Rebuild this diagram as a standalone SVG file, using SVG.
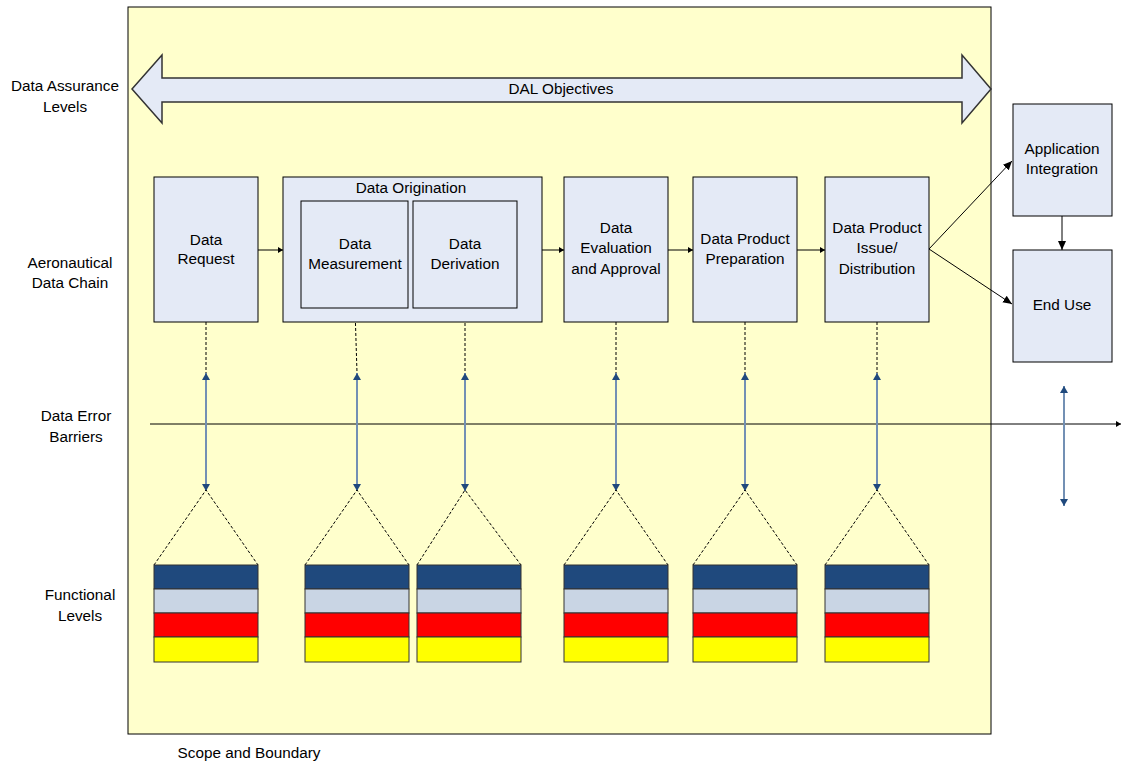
<svg xmlns="http://www.w3.org/2000/svg" width="1128" height="762" viewBox="0 0 1128 762">
<defs>
<style>
text{font-family:"Liberation Sans",Arial,sans-serif;font-size:15.3px;fill:#000;text-anchor:middle}
.box{fill:#E4EAF6;stroke:#000;stroke-width:1}
.conn{stroke:#000;stroke-width:1;fill:none}
.dash{stroke:#000;stroke-width:1;stroke-dasharray:3,2;fill:none}
.blue{stroke:#7390B4;stroke-width:2;fill:none}
.navy{fill:#1F497D;stroke:#333;stroke-width:1}
.lite{fill:#C9D5E4;stroke:#333;stroke-width:1}
.red{fill:#FF0000;stroke:#333;stroke-width:1}
.yel{fill:#FFFF00;stroke:#333;stroke-width:1}
</style>
<marker id="ah" markerWidth="10" markerHeight="10" refX="9" refY="5" orient="auto" markerUnits="userSpaceOnUse">
<path d="M0,1 L9,5 L0,9 Z" fill="#000"/>
</marker>
<marker id="sm" markerWidth="6" markerHeight="8" refX="5" refY="4" orient="auto" markerUnits="userSpaceOnUse">
<path d="M0,1 L5,4 L0,7 Z" fill="#000"/>
</marker>
<marker id="bh" markerWidth="10" markerHeight="8" refX="7" refY="4" orient="auto-start-reverse" markerUnits="userSpaceOnUse">
<path d="M0,0 L7,4 L0,8 Z" fill="#1F497D"/>
</marker>
</defs>

<rect x="0" y="0" width="1128" height="762" fill="#fff"/>
<rect id="scope" x="128" y="7" width="863" height="727" fill="#FFFFCC" stroke="#000" stroke-width="1"/>

<g id="side-labels">
<text x="65" y="91">Data Assurance</text>
<text x="65" y="112">Levels</text>
<text x="70" y="268">Aeronautical</text>
<text x="70" y="288">Data Chain</text>
<text x="76" y="421">Data Error</text>
<text x="76" y="442">Barriers</text>
<text x="80" y="600">Functional</text>
<text x="80" y="621">Levels</text>
<text x="249" y="758">Scope and Boundary</text>
</g>

<g id="dal">
<path d="M132,89 L162,55 L162,78 L962,78 L962,55 L991,89 L962,123 L962,102 L162,102 L162,123 Z" fill="#E4EAF6" stroke="#333" stroke-width="1.5"/>
<text x="561" y="94">DAL Objectives</text>
</g>

<g id="connectors">
<line class="conn" x1="258" y1="250" x2="283" y2="250" marker-end="url(#sm)"/>
<line class="conn" x1="408" y1="250" x2="413" y2="250" marker-end="url(#sm)"/>
<line class="conn" x1="542" y1="250" x2="564" y2="250" marker-end="url(#sm)"/>
<line class="conn" x1="668" y1="250" x2="693" y2="250" marker-end="url(#sm)"/>
<line class="conn" x1="797" y1="250" x2="825" y2="250" marker-end="url(#sm)"/>
<line class="conn" x1="929" y1="249" x2="1012" y2="161" marker-end="url(#ah)"/>
<line class="conn" x1="929" y1="249" x2="1012" y2="304" marker-end="url(#ah)"/>
<line class="conn" x1="1062" y1="216" x2="1062" y2="250" marker-end="url(#ah)"/>
<line class="conn" x1="150" y1="424" x2="1121" y2="424" marker-end="url(#sm)"/>
<line class="dash" x1="206" y1="322" x2="206" y2="373"/>
<line class="dash" x1="355" y1="308" x2="357" y2="373"/>
<line class="dash" x1="465" y1="308" x2="465" y2="373"/>
<line class="dash" x1="616" y1="322" x2="616" y2="373"/>
<line class="dash" x1="745" y1="322" x2="745" y2="373"/>
<line class="dash" x1="877" y1="322" x2="877" y2="373"/>
<line class="blue" x1="206" y1="373" x2="206" y2="491" marker-start="url(#bh)" marker-end="url(#bh)"/>
<line class="blue" x1="357" y1="373" x2="357" y2="491" marker-start="url(#bh)" marker-end="url(#bh)"/>
<line class="blue" x1="465" y1="373" x2="465" y2="491" marker-start="url(#bh)" marker-end="url(#bh)"/>
<line class="blue" x1="616" y1="373" x2="616" y2="491" marker-start="url(#bh)" marker-end="url(#bh)"/>
<line class="blue" x1="745" y1="373" x2="745" y2="491" marker-start="url(#bh)" marker-end="url(#bh)"/>
<line class="blue" x1="877" y1="373" x2="877" y2="491" marker-start="url(#bh)" marker-end="url(#bh)"/>
<line class="blue" x1="1064" y1="386" x2="1064" y2="506" marker-start="url(#bh)" marker-end="url(#bh)"/>
<path class="dash" d="M154,565 L206,490 L258,565"/>
<path class="dash" d="M305,565 L357,490 L409,565"/>
<path class="dash" d="M417,565 L465,490 L521,565"/>
<path class="dash" d="M564,565 L616,490 L668,565"/>
<path class="dash" d="M693,565 L745,490 L797,565"/>
<path class="dash" d="M825,565 L877,490 L929,565"/>
</g>

<g id="data-request">
<rect class="box" x="154" y="177" width="104" height="145"/>
<text x="206" y="245">Data</text>
<text x="206" y="264">Request</text>
</g>

<g id="data-origination">
<rect class="box" x="283" y="177" width="259" height="145"/>
<text x="411" y="193">Data Origination</text>
</g>
<g id="data-measurement">
<rect class="box" x="301" y="201" width="107" height="107"/>
<text x="355" y="249">Data</text>
<text x="355" y="269">Measurement</text>
</g>
<g id="data-derivation">
<rect class="box" x="413" y="201" width="104" height="107"/>
<text x="465" y="249">Data</text>
<text x="465" y="269">Derivation</text>
</g>

<g id="data-evaluation">
<rect class="box" x="564" y="177" width="104" height="145"/>
<text x="616" y="233">Data</text>
<text x="616" y="253">Evaluation</text>
<text x="616" y="274">and Approval</text>
</g>

<g id="data-product-preparation">
<rect class="box" x="693" y="177" width="104" height="145"/>
<text x="745" y="244">Data Product</text>
<text x="745" y="264">Preparation</text>
</g>

<g id="data-product-issue">
<rect class="box" x="825" y="177" width="104" height="145"/>
<text x="877" y="233">Data Product</text>
<text x="877" y="253">Issue/</text>
<text x="877" y="274">Distribution</text>
</g>

<g id="application-integration">
<rect class="box" x="1013" y="104" width="99" height="112"/>
<text x="1062" y="154">Application</text>
<text x="1062" y="174">Integration</text>
</g>

<g id="end-use">
<rect class="box" x="1013" y="250" width="99" height="112"/>
<text x="1062" y="310">End Use</text>
</g>

<g id="stacks">
<g id="stack-1"><rect class="navy" x="154" y="565" width="104" height="24"/><rect class="lite" x="154" y="589" width="104" height="24"/><rect class="red" x="154" y="613" width="104" height="24"/><rect class="yel" x="154" y="637" width="104" height="25"/></g>
<g id="stack-2"><rect class="navy" x="305" y="565" width="104" height="24"/><rect class="lite" x="305" y="589" width="104" height="24"/><rect class="red" x="305" y="613" width="104" height="24"/><rect class="yel" x="305" y="637" width="104" height="25"/></g>
<g id="stack-3"><rect class="navy" x="417" y="565" width="104" height="24"/><rect class="lite" x="417" y="589" width="104" height="24"/><rect class="red" x="417" y="613" width="104" height="24"/><rect class="yel" x="417" y="637" width="104" height="25"/></g>
<g id="stack-4"><rect class="navy" x="564" y="565" width="104" height="24"/><rect class="lite" x="564" y="589" width="104" height="24"/><rect class="red" x="564" y="613" width="104" height="24"/><rect class="yel" x="564" y="637" width="104" height="25"/></g>
<g id="stack-5"><rect class="navy" x="693" y="565" width="104" height="24"/><rect class="lite" x="693" y="589" width="104" height="24"/><rect class="red" x="693" y="613" width="104" height="24"/><rect class="yel" x="693" y="637" width="104" height="25"/></g>
<g id="stack-6"><rect class="navy" x="825" y="565" width="104" height="24"/><rect class="lite" x="825" y="589" width="104" height="24"/><rect class="red" x="825" y="613" width="104" height="24"/><rect class="yel" x="825" y="637" width="104" height="25"/></g>
</g>
</svg>
